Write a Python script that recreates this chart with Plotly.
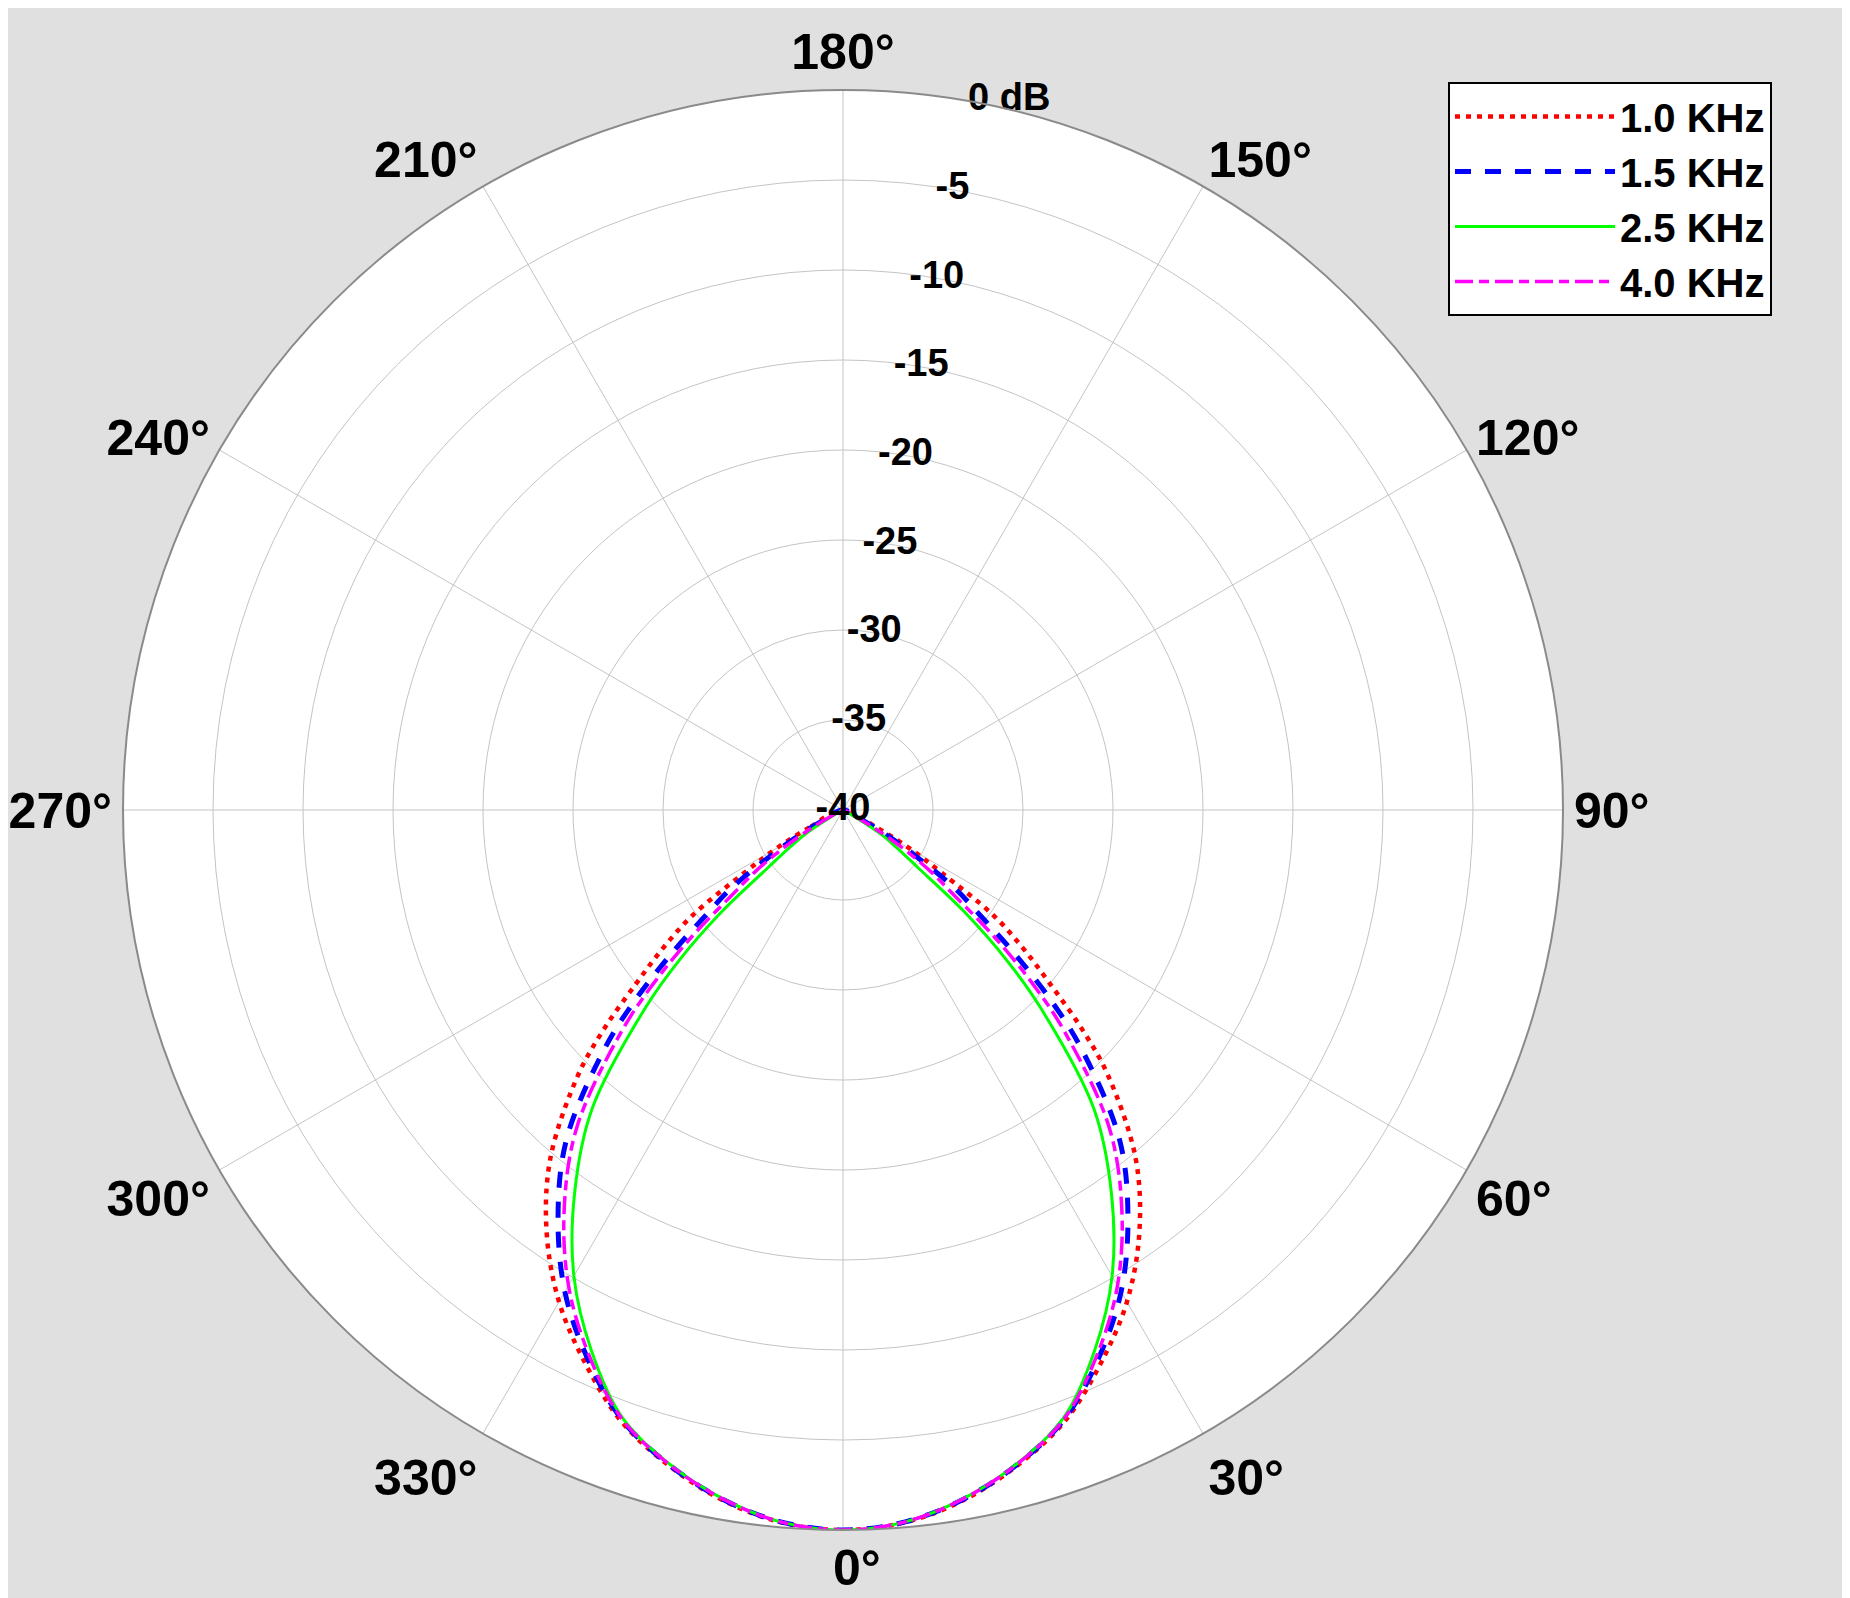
import plotly.graph_objects as go

# angles in degrees (0 = front, bottom of the plot); beyond +-65 the response sits at the -40 dB floor
theta = [-65, -62.5, -60, -57.5, -55, -52.5, -50, -47.5, -45, -40, -35, -30, -25, -20, -15, -10, -5, 0,
         5, 10, 15, 20, 25, 30, 35, 40, 45, 47.5, 50, 52.5, 55, 57.5, 60, 62.5, 65]

# response in dB
db_1k0 = [-40, -37.9, -35.7, -33.5, -29.8, -27.4, -25.0, -22.0, -19.2, -14.7, -11.3, -8.45, -6.1, -3.9, -2.35, -1.1, -0.28, 0,
          -0.28, -1.1, -2.35, -3.9, -6.1, -8.45, -11.3, -14.7, -19.2, -22.0, -25.0, -27.4, -29.8, -33.5, -35.7, -37.9, -40]
db_1k5 = [-40, -38.7, -37.1, -35.1, -32.4, -30.4, -27.5, -24.3, -21.3, -16.1, -12.4, -9.1, -6.4, -4.0, -2.4, -1.15, -0.3, 0,
          -0.3, -1.15, -2.4, -4.0, -6.4, -9.1, -12.4, -16.1, -21.3, -24.3, -27.5, -30.4, -32.4, -35.1, -37.1, -38.7, -40]
db_2k5 = [-40, -40, -39.2, -37.5, -36.4, -34.8, -31.2, -27.7, -24.5, -18.3, -14.0, -10.1, -6.9, -4.1, -2.45, -1.18, -0.3, 0,
          -0.3, -1.18, -2.45, -4.1, -6.9, -10.1, -14.0, -18.3, -24.5, -27.7, -31.2, -34.8, -36.4, -37.5, -39.2, -40, -40]
db_4k0 = [-40, -39.3, -38.0, -36.1, -34.1, -32.2, -29.0, -25.7, -22.6, -17.0, -13.0, -9.5, -6.6, -4.03, -2.42, -1.17, -0.3, 0,
          -0.3, -1.17, -2.42, -4.03, -6.6, -9.5, -13.0, -17.0, -22.6, -25.7, -29.0, -32.2, -34.1, -36.1, -38.0, -39.3, -40]

r_ticks = [-40, -35, -30, -25, -20, -15, -10, -5, 0]
r_labels = ['-40', '-35', '-30', '-25', '-20', '-15', '-10', '-5', '0 dB']
ang_ticks = list(range(0, 360, 30))
# the 0° label sits closer to the rim than plotly puts it, so it is written as an annotation below
ang_labels = [''] + [f'{a}°' for a in ang_ticks[1:]]

fig = go.Figure()

series = [
    ('1.0 KHz', db_1k0, '#ff0000', '5px,6px', 4.5),
    ('1.5 KHz', db_1k5, '#0000ff', '16px,14px', 5),
    ('2.5 KHz', db_2k5, '#00ff00', 'solid', 3),
    ('4.0 KHz', db_4k0, '#ff00ff', '18px,6px,10px,6px', 3.5),
]
for name, vals, color, dash, width in series:
    fig.add_trace(go.Scatterpolar(
        r=vals, theta=theta, mode='lines', name=name,
        line=dict(color=color, dash=dash, width=width, shape='spline'),
    ))

# radial tick labels, centred on a ray 10 degrees off the 180° spoke
label_theta = 170
fig.add_trace(go.Scatterpolar(
    r=r_ticks, theta=[label_theta] * len(r_ticks), mode='text', text=r_labels,
    textposition=['middle center'] * (len(r_ticks) - 1) + ['middle right'],
    textfont=dict(size=38, color='black', weight='bold'),
    showlegend=False, hoverinfo='skip', cliponaxis=False,
))

W, H = 1850, 1598
cx, cy, R = 835, 802, 720

fig.update_layout(
    width=W, height=H,
    paper_bgcolor='#e0e0e0',
    margin=dict(l=0, r=0, t=0, b=0),
    font=dict(family='Liberation Sans, Arial, sans-serif', color='black', weight='bold'),
    polar=dict(
        domain=dict(x=[(cx - R) / W, (cx + R) / W], y=[(H - cy - R) / H, (H - cy + R) / H]),
        bgcolor='white',
        radialaxis=dict(
            range=[-40, 0], tickvals=r_ticks, showticklabels=False,
            showline=False, ticks='',
            gridcolor='#c4c4c4', gridwidth=1.2,
        ),
        angularaxis=dict(
            rotation=-90, direction='counterclockwise',
            tickvals=ang_ticks, ticktext=ang_labels, ticks='',
            showline=True, linecolor='#8a8a8a', linewidth=2,
            gridcolor='#c4c4c4', gridwidth=1.2,
            tickfont=dict(size=50, weight='bold'),
        ),
    ),
    legend=dict(
        x=1440 / W, y=1 - 74 / H, xanchor='left', yanchor='top',
        bgcolor='white', bordercolor='black', borderwidth=2,
        font=dict(size=40, weight='bold'),
        itemwidth=160,
    ),
    annotations=[dict(
        text='0°', x=849 / W, y=1 - 1560 / H, xref='paper', yref='paper',
        xanchor='center', yanchor='middle', showarrow=False,
        font=dict(size=50, weight='bold'),
    )],
)

fig.write_html('out.html')
